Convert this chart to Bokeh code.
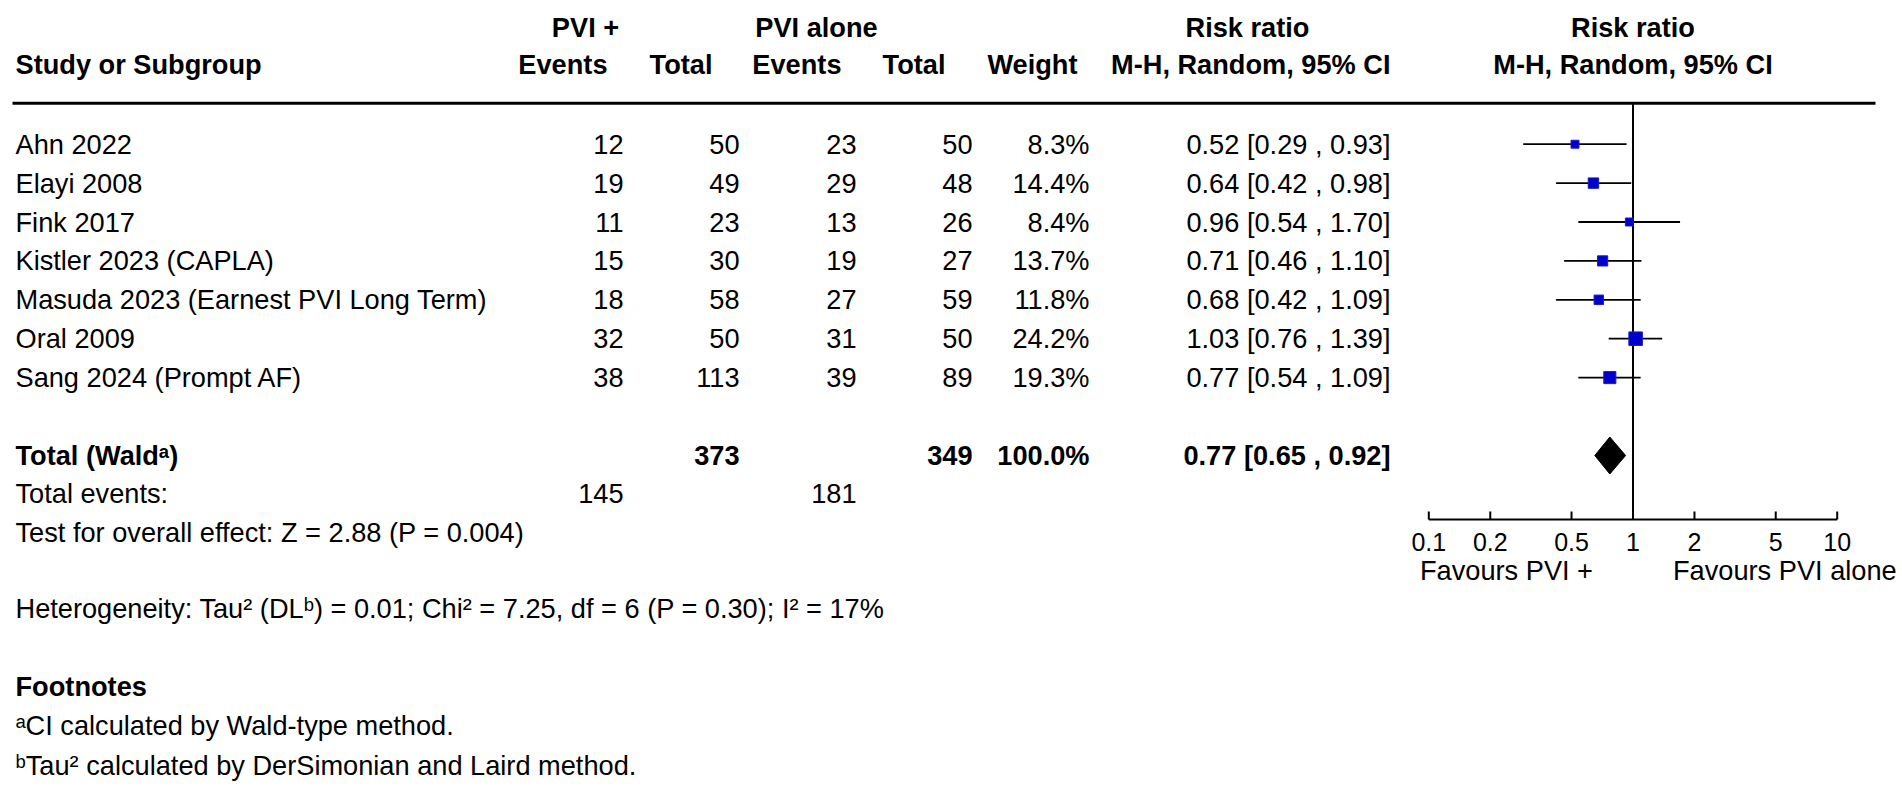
import math
from bokeh.plotting import figure
from bokeh.models import Range1d, LogScale, ColumnDataSource
from bokeh.core.properties import value
from bokeh.embed import file_html
from bokeh.resources import INLINE

# ---------------- data ----------------
studies = ["Ahn 2022", "Elayi 2008", "Fink 2017", "Kistler 2023 (CAPLA)",
           "Masuda 2023 (Earnest PVI Long Term)", "Oral 2009", "Sang 2024 (Prompt AF)"]
events_pvi_plus = [12, 19, 11, 15, 18, 32, 38]
total_pvi_plus = [50, 49, 23, 30, 58, 50, 113]
events_pvi_alone = [23, 29, 13, 19, 27, 31, 39]
total_pvi_alone = [50, 48, 26, 27, 59, 50, 89]
weights = [8.3, 14.4, 8.4, 13.7, 11.8, 24.2, 19.3]
rr = [0.52, 0.64, 0.96, 0.71, 0.68, 1.03, 0.77]
ci_low = [0.29, 0.42, 0.54, 0.46, 0.42, 0.76, 0.54]
ci_high = [0.93, 0.98, 1.70, 1.10, 1.09, 1.39, 1.09]

total_n_plus = 373
total_n_alone = 349
total_weight = 100.0
total_rr = 0.77
total_low = 0.65
total_high = 0.92
total_events_plus = 145
total_events_alone = 181

axis_ticks = [0.1, 0.2, 0.5, 1, 2, 5, 10]
fav_left = "Favours PVI +"
fav_right = "Favours PVI alone"
overall_text = "Test for overall effect: Z = 2.88 (P = 0.004)"
hetero_text = "Heterogeneity: Tau\u00b2 (DL\u1d47) = 0.01; Chi\u00b2 = 7.25, df = 6 (P = 0.30); I\u00b2 = 17%"
footnote_lines = ["\u1d43CI calculated by Wald-type method.",
                  "\u1d47Tau\u00b2 calculated by DerSimonian and Laird method."]

# ---------------- layout constants ----------------
W, H = 1902, 810
FONT = "Liberation Sans"
FS = "27.2px"
X_ONE = 1632.5          # screen x of RR = 1
DECADE = 204.2          # screen px per decade

def px_to_rr(px):
    return 10 ** ((px - X_ONE) / DECADE)

row0 = 143.7
pitch = 38.9
ys = [row0 + i * pitch for i in range(len(studies))]
y_total = 455
y_tev = 493
y_test = 531.5
y_het = 608
y_fn = 685.5
y_fn_lines = [725, 765]
y_h1, y_h2 = 27, 64.3
y_line = 102.7
y_axis = 519
tick_len = 8
y_ticklab = 541.7
y_fav = 570

p = figure(width=W, height=H, x_range=Range1d(0, W), y_range=Range1d(H, 0),
           toolbar_location=None, output_backend="svg", x_axis_location=None,
           y_axis_location=None, min_border=0, outline_line_color=None)
p.xgrid.visible = False
p.ygrid.visible = False
p.extra_x_ranges = {"rr": Range1d(px_to_rr(0), px_to_rr(W))}
p.extra_x_scales = {"rr": LogScale()}

def txt(x, y, s, align="left", bold=False, size=FS, **kw):
    p.text(x=x, y=y, text=s, text_font=value(FONT), text_font_size=value(size),
           text_font_style="bold" if bold else "normal", text_align=align,
           text_baseline="middle", text_color="black", **kw)

# ---- table headers ----
txt([585, 816, 1247], [y_h1] * 3, ["PVI +", "PVI alone", "Risk ratio"], align="center", bold=True)
txt([15], [y_h2], ["Study or Subgroup"], bold=True)
txt([607, 712, 841, 945, 1077, 1390], [y_h2] * 6,
    ["Events", "Total", "Events", "Total", "Weight", "M-H, Random, 95% CI"], align="right", bold=True)
txt([1, 1], [y_h1, y_h2], ["Risk ratio", "M-H, Random, 95% CI"], align="center", bold=True,
    x_range_name="rr")
p.segment(x0=[12], y0=[y_line], x1=[1875], y1=[y_line], line_width=3, line_color="black")

# ---- study rows ----
txt([15] * len(studies), ys, studies)
col_right = [623, 739, 856, 972, 1089, 1390]
cols = [
    [str(v) for v in events_pvi_plus],
    [str(v) for v in total_pvi_plus],
    [str(v) for v in events_pvi_alone],
    [str(v) for v in total_pvi_alone],
    [f"{w:.1f}%" for w in weights],
    [f"{a:.2f} [{b:.2f} , {c:.2f}]" for a, b, c in zip(rr, ci_low, ci_high)],
]
for xr, c in zip(col_right, cols):
    txt([xr] * len(c), ys, c, align="right")

# ---- totals ----
txt([15], [y_total], ["Total (Wald\u1d43)"], bold=True)
txt([739, 972, 1089, 1390], [y_total] * 4,
    [str(total_n_plus), str(total_n_alone), f"{total_weight:.1f}%",
     f"{total_rr:.2f} [{total_low:.2f} , {total_high:.2f}]"], align="right", bold=True)
txt([15], [y_tev], ["Total events:"])
txt([623, 856], [y_tev] * 2, [str(total_events_plus), str(total_events_alone)], align="right")
txt([15], [y_test], [overall_text])
txt([15], [y_het], [hetero_text])
txt([15], [y_fn], ["Footnotes"], bold=True)
txt([15] * len(footnote_lines), y_fn_lines, footnote_lines)

# ---- forest plot (log risk-ratio scale) ----
p.segment(x0=[1], y0=[y_line], x1=[1], y1=[y_axis], line_width=2, line_color="black",
          x_range_name="rr")

src = ColumnDataSource(dict(y=ys, rr=rr, lo=ci_low, hi=ci_high,
                            size=[2.75 * math.sqrt(w) for w in weights]))
p.segment(x0="lo", y0="y", x1="hi", y1="y", source=src, line_width=1.8, line_color="black",
          x_range_name="rr")
p.scatter(x="rr", y="y", size="size", marker="square", source=src,
          fill_color="#0000C8", line_color="#1a1ad0", line_width=1, x_range_name="rr")

dh = 18.5
p.patch(x=[total_low, total_rr, total_high, total_rr],
        y=[y_total, y_total - dh, y_total, y_total + dh],
        fill_color="black", line_color="black", x_range_name="rr")

# ---- risk-ratio axis ----
p.segment(x0=[axis_ticks[0]], y0=[y_axis], x1=[axis_ticks[-1]], y1=[y_axis],
          line_width=2, line_color="black", x_range_name="rr")
p.segment(x0=axis_ticks, y0=[y_axis - tick_len] * len(axis_ticks), x1=axis_ticks,
          y1=[y_axis] * len(axis_ticks), line_width=2, line_color="black", x_range_name="rr")
txt(axis_ticks, [y_ticklab] * len(axis_ticks), [f"{t:g}" for t in axis_ticks],
    align="center", size="25px", x_range_name="rr")
txt([1], [y_fav], [fav_left], align="right", x_offset=-40, x_range_name="rr")
txt([1], [y_fav], [fav_right], align="left", x_offset=40, x_range_name="rr")

open("out.html", "w").write(file_html(p, INLINE))
